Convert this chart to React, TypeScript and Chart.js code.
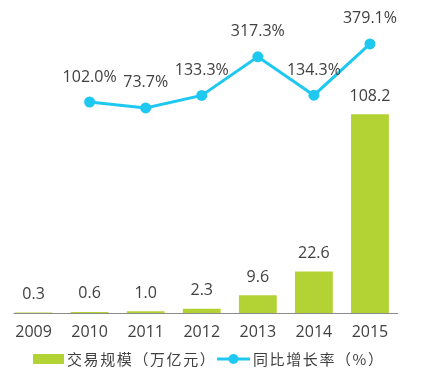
import React, { useEffect, useRef } from "react";
import { Chart, registerables } from "chart.js";

Chart.register(...registerables);

const years = ["2009", "2010", "2011", "2012", "2013", "2014", "2015"];
const volume = [0.3, 0.6, 1.0, 2.3, 9.6, 22.6, 108.2];
const growth = [null, 102.0, 73.7, 133.3, 317.3, 134.3, 379.1];
const volumeLabel = "交易规模（万亿元）";
const growthLabel = "同比增长率（%）";

const GREEN = "#b3d234";
const CYAN = "#1fc8f0";
const TEXT = "#404040";
const FONT = '"Open Sans", "Noto Sans CJK SC", sans-serif';
const CJK = '"Noto Sans CJK TC", sans-serif';

const labelPlugin = {
  id: "valueLabels",
  afterDatasetsDraw(chart: any) {
    const ctx = chart.ctx;
    ctx.save();
    ctx.fillStyle = TEXT;
    ctx.font = `16px ${FONT}`;
    ctx.textAlign = "center";
    ctx.textBaseline = "middle";
    const barMeta = chart.getDatasetMeta(0);
    barMeta.data.forEach((el: any, i: number) => {
      ctx.fillText(volume[i].toFixed(1), el.x, el.y - 18);
    });
    const lineMeta = chart.getDatasetMeta(1);
    lineMeta.data.forEach((el: any, i: number) => {
      const v = growth[i];
      if (v == null) return;
      ctx.fillText(v.toFixed(1) + "%", el.x, el.y - 25);
    });
    const xs = chart.scales.x;
    ctx.strokeStyle = "#8c8c8c";
    ctx.lineWidth = 1;
    ctx.beginPath();
    ctx.moveTo(xs.left + 8, chart.chartArea.bottom + 0.5);
    ctx.lineTo(xs.right, chart.chartArea.bottom + 0.5);
    ctx.stroke();
    ctx.restore();
  },
  afterDraw(chart: any) {
    const ctx = chart.ctx;
    ctx.save();
    const y = 359;
    ctx.font = `15px ${CJK}`;
    (ctx as any).letterSpacing = "1.6px";
    ctx.textBaseline = "middle";
    ctx.textAlign = "left";
    ctx.fillStyle = GREEN;
    ctx.fillRect(33, y - 5, 31, 10);
    ctx.fillStyle = TEXT;
    ctx.fillText(volumeLabel, 67, y);
    ctx.strokeStyle = CYAN;
    ctx.lineWidth = 3;
    ctx.beginPath();
    ctx.moveTo(217, y);
    ctx.lineTo(250, y);
    ctx.stroke();
    ctx.fillStyle = CYAN;
    ctx.beginPath();
    ctx.arc(233.5, y, 5, 0, Math.PI * 2);
    ctx.fill();
    ctx.fillStyle = TEXT;
    ctx.fillText(growthLabel, 253, y);
    ctx.restore();
  },
};

export default function App() {
  const ref = useRef<HTMLCanvasElement>(null);
  useEffect(() => {
    if (!ref.current) return;
    const chart = new Chart(ref.current, {
      type: "bar",
      data: {
        labels: years,
        datasets: [
          {
            type: "bar",
            label: volumeLabel,
            data: volume,
            backgroundColor: GREEN,
            yAxisID: "y",
            categoryPercentage: 1,
            barPercentage: 0.675,
            order: 2,
          },
          {
            type: "line",
            label: growthLabel,
            data: growth as any,
            borderColor: CYAN,
            backgroundColor: CYAN,
            borderWidth: 3,
            pointRadius: 5.5,
            pointBackgroundColor: CYAN,
            pointBorderWidth: 0,
            yAxisID: "y2",
            spanGaps: false,
            order: 1,
          },
        ],
      },
      options: {
        animation: false,
        responsive: true,
        maintainAspectRatio: false,
        layout: { padding: { left: 3.8, right: 33, top: 10, bottom: 33 } },
        plugins: {
          legend: { display: false },
          tooltip: { enabled: false },
        },
        scales: {
          x: {
            grid: { display: false, drawTicks: false },
            border: { display: false },
            ticks: { color: TEXT, font: { family: FONT, size: 16 }, padding: 10 },
            afterFit: (s: any) => {
              s.height = 30;
            },
          },
          y: { display: false, min: 0, max: 165 },
          y2: { display: false, min: -905, max: 541, position: "right" },
        },
      },
      plugins: [labelPlugin],
    });
    return () => chart.destroy();
  }, []);
  return (
    <div style={{ margin: -8, width: 431, height: 376, position: "relative", background: "#fff" }}>
      <canvas ref={ref} />
    </div>
  );
}
